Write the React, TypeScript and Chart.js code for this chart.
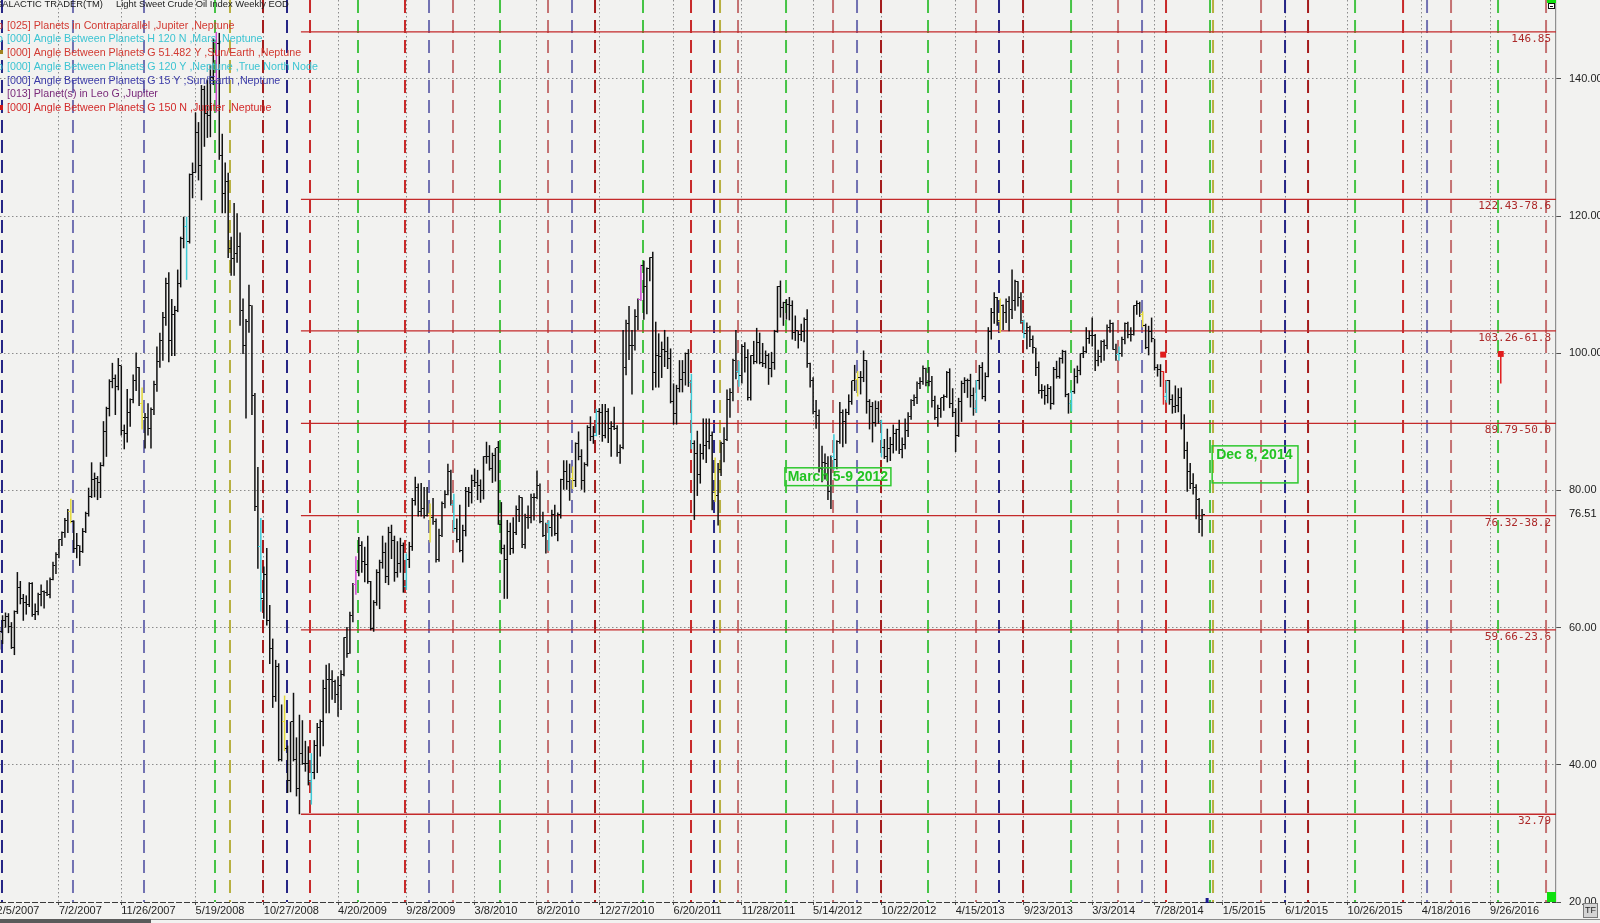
import React, { useEffect, useRef } from "react";
import { Chart, registerables } from "chart.js";

Chart.register(...registerables);

// ---------- axis ticks ----------
const tickWeeks = [0, 21, 42, 67, 90, 115, 138, 161, 182, 203, 228, 251, 275, 298, 323, 346, 369, 390, 413, 434, 455, 480, 503];
const tickLabels = ["2/5/2007", "7/2/2007", "11/26/2007", "5/19/2008", "10/27/2008", "4/20/2009", "9/28/2009", "3/8/2010", "8/2/2010", "12/27/2010", "6/20/2011", "11/28/2011", "5/14/2012", "10/22/2012", "4/15/2013", "9/23/2013", "3/3/2014", "7/28/2014", "1/5/2015", "6/1/2015", "10/26/2015", "4/18/2016", "9/26/2016"];
const priceTicks = [20, 40, 60, 80, 100, 120, 140];

// ---------- weekly OHLC (week 0 = 2/5/2007) ----------
const bars2007 = [
  [58.9, 60.5, 57.2, 59.9], [59.9, 60.0, 56.8, 59.4], [59.4, 61.8, 57.6, 61.1], [61.1, 62.2, 60.0, 61.6],
  [61.6, 62.1, 59.2, 60.1], [60.1, 60.8, 56.9, 57.1], [57.1, 62.5, 56.0, 62.3], [62.3, 68.1, 62.0, 65.9],
  [65.9, 66.8, 63.4, 64.3], [64.3, 64.9, 61.0, 63.6], [63.6, 64.7, 61.9, 63.4], [63.4, 66.6, 63.0, 66.5],
  [66.5, 66.6, 61.6, 61.9], [61.9, 63.5, 61.1, 62.4], [62.4, 65.1, 61.8, 64.9], [64.9, 66.3, 63.1, 65.2],
  [65.2, 65.4, 62.8, 65.1], [65.1, 66.9, 64.6, 64.8], [64.8, 67.3, 64.3, 67.0], [67.0, 69.6, 66.9, 69.0],
  [69.0, 71.0, 67.8, 70.7], [70.7, 72.9, 70.1, 72.8], [72.8, 74.0, 71.9, 73.9], [73.9, 76.0, 73.1, 75.6],
  [75.6, 77.3, 73.8, 77.0], [77.0, 78.8, 75.2, 75.5], [75.5, 75.6, 70.9, 71.5], [71.5, 73.8, 70.1, 72.0],
  [72.0, 72.0, 69.0, 71.1], [71.1, 74.5, 70.9, 74.0], [74.0, 76.9, 73.8, 76.7], [76.7, 80.4, 76.2, 79.1],
  [79.1, 84.1, 78.9, 81.6], [81.6, 82.6, 79.0, 81.7], [81.7, 82.1, 78.6, 81.2], [81.2, 84.1, 78.9, 83.7],
  [83.7, 90.1, 83.5, 88.6], [88.6, 92.2, 84.9, 91.9], [91.9, 96.2, 90.8, 95.9], [95.9, 98.6, 94.9, 96.3],
  [96.3, 96.9, 91.0, 95.1], [95.1, 99.3, 94.6, 98.2], [98.2, 98.2, 88.0, 88.7], [88.7, 89.6, 86.0, 88.3],
  [88.3, 94.8, 87.0, 91.3], [91.3, 93.4, 89.3, 93.3], [93.3, 96.9, 92.7, 96.0], [96.0, 100.1, 94.5, 97.9],
];
const bars2008 = [
  [97.9, 98.0, 92.3, 92.7], [92.7, 95.0, 88.9, 90.6], [90.6, 91.3, 86.1, 90.7], [90.7, 92.7, 88.0, 89.0],
  [89.0, 92.1, 86.1, 91.8], [91.8, 96.0, 91.0, 95.5], [95.5, 101.0, 94.4, 98.8], [98.8, 103.0, 97.9, 101.8],
  [101.8, 106.0, 98.9, 105.2], [105.2, 111.0, 104.0, 110.2], [110.2, 111.8, 98.7, 101.8], [101.8, 107.9, 99.6, 105.6],
  [105.6, 106.9, 99.6, 106.2], [106.2, 112.2, 106.0, 110.1], [110.1, 117.0, 109.6, 116.7], [116.7, 119.9, 115.3, 118.5],
  [118.5, 119.9, 110.7, 116.3], [116.3, 126.2, 116.0, 126.0], [126.0, 127.8, 122.6, 126.3], [126.3, 135.1, 126.3, 132.2],
  [132.2, 133.7, 125.2, 127.4], [127.4, 139.1, 122.3, 138.5], [138.5, 139.0, 130.1, 134.9], [134.9, 139.9, 131.4, 134.6],
  [134.6, 142.0, 131.5, 140.2], [140.2, 145.9, 139.1, 145.3], [145.3, 146.85, 135.1, 145.1], [145.1, 146.7, 128.2, 128.9],
  [128.9, 132.0, 120.4, 123.3], [123.3, 127.8, 120.4, 125.1], [125.1, 126.3, 113.9, 115.2], [115.2, 117.0, 111.3, 113.8],
  [113.8, 121.9, 111.3, 114.6], [114.6, 120.4, 113.2, 115.5], [115.5, 117.6, 104.0, 106.2], [106.2, 108.0, 99.9, 101.2],
  [101.2, 105.0, 90.5, 104.6], [104.6, 110.0, 103.0, 106.9], [106.9, 107.0, 91.0, 93.9], [93.9, 94.2, 77.0, 77.7],
  [77.7, 83.4, 68.6, 71.9], [71.9, 76.0, 62.3, 64.2], [64.2, 68.9, 61.3, 67.8], [67.8, 71.6, 60.3, 61.0],
  [61.0, 63.3, 54.7, 57.0], [57.0, 58.4, 48.3, 49.9], [49.9, 55.3, 49.2, 54.4], [54.4, 54.8, 40.5, 40.8],
  [40.8, 48.8, 40.5, 46.3], [46.3, 50.1, 42.0, 42.4], [42.4, 42.8, 35.9, 37.7], [37.7, 46.3, 36.0, 46.3],
];
const bars2009 = [
  [46.3, 50.5, 40.5, 40.8], [40.8, 44.0, 35.4, 36.5], [36.5, 47.3, 32.79, 41.7], [41.7, 46.5, 40.0, 40.2],
  [40.2, 43.5, 39.0, 40.2], [40.2, 42.7, 37.0, 37.5], [37.5, 41.7, 34.2, 38.9], [38.9, 43.6, 37.9, 42.8],
  [42.8, 46.1, 38.8, 45.5], [45.5, 46.6, 41.2, 46.3], [46.3, 52.4, 42.7, 51.1], [51.1, 54.6, 47.5, 52.4],
  [52.4, 54.8, 47.5, 52.5], [52.5, 53.8, 49.5, 52.2], [52.2, 52.4, 49.0, 50.3], [50.3, 52.9, 47.0, 51.6],
  [51.6, 53.8, 48.0, 53.2], [53.2, 58.6, 52.9, 58.6], [58.6, 60.1, 55.6, 56.3], [56.3, 62.3, 56.2, 61.7],
  [61.7, 66.5, 60.8, 66.3], [66.3, 70.4, 64.8, 68.4], [68.4, 73.2, 67.5, 72.0], [72.0, 72.6, 68.0, 69.6],
  [69.6, 71.8, 66.6, 69.2], [69.2, 73.4, 66.4, 66.7], [66.7, 66.8, 59.6, 59.9], [59.9, 64.0, 59.4, 63.6],
  [63.6, 68.5, 63.2, 68.1], [68.1, 69.9, 62.7, 69.5], [69.5, 73.4, 68.6, 70.9], [70.9, 72.4, 66.5, 67.5],
  [67.5, 74.7, 66.2, 73.9], [73.9, 75.0, 70.0, 72.7], [72.7, 73.4, 66.7, 68.0], [68.0, 72.6, 67.3, 69.3],
  [69.3, 73.1, 68.0, 72.0], [72.0, 72.4, 65.1, 66.0], [66.0, 70.8, 65.5, 69.9], [69.9, 72.5, 68.7, 71.8],
  [71.8, 78.9, 71.2, 78.5], [78.5, 82.0, 77.8, 80.5], [80.5, 81.0, 76.2, 77.0], [77.0, 81.1, 76.2, 77.4],
  [77.4, 80.5, 75.9, 76.4], [76.4, 80.5, 76.2, 76.7], [76.7, 78.1, 72.4, 76.1], [76.1, 78.9, 75.0, 75.5],
  [75.5, 75.9, 69.5, 69.9], [69.9, 74.4, 69.6, 73.4], [73.4, 78.4, 73.2, 78.1], [78.1, 80.0, 77.4, 79.4],
];
const bars2010 = [
  [79.4, 83.9, 79.3, 82.8], [82.8, 83.0, 77.8, 78.0], [78.0, 79.5, 74.0, 74.5], [74.5, 75.9, 72.4, 72.9],
  [72.9, 77.9, 71.0, 71.2], [71.2, 75.0, 69.5, 74.1], [74.1, 80.5, 73.3, 79.8], [79.8, 80.5, 77.6, 79.7],
  [79.7, 82.3, 78.1, 81.5], [81.5, 83.2, 80.5, 81.2], [81.2, 83.0, 78.6, 80.7], [80.7, 81.6, 78.2, 80.0],
  [80.0, 85.0, 78.7, 84.9], [84.9, 87.1, 83.9, 84.9], [84.9, 86.6, 82.9, 83.2], [83.2, 85.5, 81.1, 85.1],
  [85.1, 86.2, 81.3, 86.2], [86.2, 87.2, 75.0, 75.1], [75.1, 78.3, 70.7, 71.6], [71.6, 72.1, 64.2, 70.0],
  [70.0, 75.7, 64.2, 74.0], [74.0, 75.3, 70.6, 71.5], [71.5, 76.1, 70.8, 73.8], [73.8, 77.8, 73.5, 77.2],
  [77.2, 79.3, 75.4, 78.9], [78.9, 79.0, 71.6, 72.1], [72.1, 76.6, 71.5, 76.1], [76.1, 77.8, 74.4, 76.0],
  [76.0, 79.5, 75.2, 79.0], [79.0, 79.6, 75.6, 79.0], [79.0, 82.9, 78.7, 80.7], [80.7, 81.0, 75.2, 75.4],
  [75.4, 76.9, 73.2, 73.5], [73.5, 75.3, 70.8, 75.2], [75.2, 75.6, 71.2, 74.6], [74.6, 77.2, 73.3, 76.5],
  [76.5, 77.9, 73.4, 73.7], [73.7, 76.8, 72.6, 76.5], [76.5, 81.7, 75.9, 81.6], [81.6, 84.4, 80.1, 82.7],
  [82.7, 84.4, 80.1, 81.3], [81.3, 83.9, 78.5, 81.7], [81.7, 83.5, 80.2, 81.4], [81.4, 87.0, 80.5, 86.9],
  [86.9, 88.6, 84.4, 84.9], [84.9, 86.0, 80.1, 81.5], [81.5, 84.1, 79.7, 83.8], [83.8, 89.5, 83.5, 89.2],
  [89.2, 90.8, 87.2, 87.8], [87.8, 89.4, 86.8, 88.0], [88.0, 91.9, 87.9, 91.5], [91.5, 92.0, 88.1, 91.4],
];
const bars2011 = [
  [91.4, 92.6, 87.1, 88.0], [88.0, 92.6, 87.6, 91.5], [91.5, 92.0, 86.9, 89.1], [89.1, 90.1, 84.9, 89.3],
  [89.3, 92.2, 88.8, 89.0], [89.0, 89.5, 84.9, 85.6], [85.6, 86.7, 83.9, 86.2], [86.2, 103.4, 86.0, 97.9],
  [97.9, 104.9, 96.8, 104.4], [104.4, 106.9, 99.0, 101.2], [101.2, 103.4, 94.0, 101.1], [101.1, 106.4, 100.4, 105.4],
  [105.4, 108.0, 103.4, 107.9], [107.9, 112.9, 107.6, 112.8], [112.8, 113.5, 104.9, 109.7], [109.7, 112.5, 105.7, 112.3],
  [112.3, 114.0, 110.5, 113.9], [113.9, 114.8, 94.6, 97.2], [97.2, 104.6, 95.0, 99.7], [99.7, 102.9, 95.0, 99.5],
  [99.5, 101.7, 96.4, 100.6], [100.6, 103.4, 98.0, 100.2], [100.2, 102.4, 97.7, 99.3], [99.3, 100.7, 92.7, 93.0],
  [93.0, 95.6, 89.6, 91.2], [91.2, 95.4, 89.6, 94.9], [94.9, 99.0, 94.3, 96.2], [96.2, 99.0, 94.3, 97.2],
  [97.2, 100.1, 95.3, 99.9], [99.9, 100.6, 95.1, 95.7], [95.7, 97.0, 86.0, 86.9], [86.9, 87.3, 75.7, 85.4],
  [85.4, 88.7, 79.2, 82.3], [82.3, 86.8, 81.0, 85.4], [85.4, 90.5, 84.5, 86.5], [86.5, 90.5, 84.0, 87.2],
  [87.2, 90.5, 86.0, 88.0], [88.0, 88.6, 77.1, 79.9], [79.9, 84.8, 78.3, 79.2], [79.2, 84.0, 74.9, 83.0],
  [83.0, 87.1, 82.1, 86.8], [86.8, 89.2, 84.1, 87.4], [87.4, 94.7, 87.2, 93.3], [93.3, 94.9, 90.6, 94.3],
  [94.3, 99.2, 93.0, 99.0], [99.0, 103.4, 96.2, 97.4], [97.4, 98.9, 95.1, 96.8], [96.8, 101.3, 95.6, 101.0],
  [101.0, 101.6, 97.2, 99.4], [99.4, 100.6, 93.1, 93.5], [93.5, 99.7, 93.1, 99.7], [99.7, 101.8, 98.4, 98.8],
];
const bars2012 = [
  [98.8, 103.7, 98.5, 101.6], [101.6, 103.0, 98.4, 98.7], [98.7, 101.5, 98.0, 98.5], [98.5, 100.4, 97.8, 99.6],
  [99.6, 100.0, 95.4, 97.8], [97.8, 100.2, 96.5, 98.7], [98.7, 103.4, 97.6, 103.2], [103.2, 109.8, 103.0, 109.8],
  [109.8, 110.6, 105.2, 106.7], [106.7, 107.5, 104.0, 107.4], [107.4, 107.9, 104.9, 107.1], [107.1, 108.2, 104.8, 106.9],
  [106.9, 107.7, 102.0, 103.0], [103.0, 105.5, 101.8, 103.3], [103.3, 103.3, 100.7, 102.8], [102.8, 104.3, 101.8, 103.1],
  [103.1, 105.2, 101.6, 104.9], [104.9, 106.4, 97.9, 98.5], [98.5, 98.6, 95.0, 96.1], [96.1, 96.5, 91.1, 91.5],
  [91.5, 93.2, 89.0, 90.9], [90.9, 91.8, 82.6, 83.2], [83.2, 86.5, 81.2, 84.1], [84.1, 85.4, 81.6, 84.0],
  [84.0, 85.0, 78.6, 79.8], [79.8, 85.1, 77.3, 85.0], [85.0, 88.2, 83.0, 84.5], [84.5, 87.3, 83.1, 87.1],
  [87.1, 92.9, 86.8, 91.4], [91.4, 91.8, 86.3, 90.1], [90.1, 91.9, 86.8, 91.4], [91.4, 94.0, 91.0, 92.9],
  [92.9, 96.0, 92.5, 96.0], [96.0, 98.3, 94.5, 96.2], [96.2, 97.4, 93.7, 96.5], [96.5, 97.4, 94.0, 96.4],
  [96.4, 100.4, 95.8, 99.0], [99.0, 99.0, 91.2, 92.9], [92.9, 93.3, 88.9, 92.2], [92.2, 92.9, 87.0, 89.9],
  [89.9, 93.1, 89.3, 91.9], [91.9, 93.0, 89.7, 90.1], [90.1, 90.3, 84.9, 86.3], [86.3, 87.5, 84.6, 84.9],
  [84.9, 89.0, 84.1, 86.1], [86.1, 87.8, 84.3, 86.7], [86.7, 89.6, 85.4, 88.3], [88.3, 89.0, 85.8, 88.9],
  [88.9, 90.3, 85.3, 85.9], [85.9, 87.7, 84.7, 86.7], [86.7, 90.5, 86.0, 88.7], [88.7, 91.4, 87.8, 90.8],
];
const bars2013 = [
  [90.8, 93.3, 90.3, 93.1], [93.1, 94.0, 92.3, 93.6], [93.6, 95.9, 92.6, 95.6], [95.6, 96.5, 94.8, 95.9],
  [95.9, 98.2, 95.4, 97.8], [97.8, 97.9, 95.2, 95.7], [95.7, 98.0, 95.2, 95.9], [95.9, 96.7, 92.1, 93.1],
  [93.1, 93.8, 90.3, 90.7], [90.7, 92.5, 89.3, 92.0], [92.0, 93.5, 90.6, 93.5], [93.5, 94.0, 91.6, 93.7],
  [93.7, 97.4, 93.5, 97.2], [97.2, 97.8, 92.0, 92.7], [92.7, 94.9, 90.7, 91.3], [91.3, 92.0, 85.6, 88.0],
  [88.0, 93.5, 87.8, 93.0], [93.0, 96.0, 90.0, 95.6], [95.6, 96.5, 94.2, 96.0], [96.0, 96.3, 93.5, 96.0],
  [96.0, 97.0, 92.1, 93.8], [93.8, 95.0, 90.9, 92.0], [92.0, 96.1, 91.3, 96.0], [96.0, 98.3, 94.7, 97.9],
  [97.9, 98.7, 93.3, 93.7], [93.7, 97.2, 93.0, 96.6], [96.6, 103.8, 96.5, 103.2], [103.2, 106.6, 102.0, 106.0],
  [106.0, 108.9, 104.3, 108.1], [108.1, 108.2, 104.0, 104.7], [104.7, 108.0, 103.0, 106.9], [106.9, 107.1, 103.4, 106.0],
  [106.0, 108.0, 104.4, 107.5], [107.5, 108.3, 103.2, 106.4], [106.4, 112.2, 105.0, 107.7], [107.7, 110.7, 106.2, 110.5],
  [110.5, 110.5, 106.8, 108.2], [108.2, 108.9, 104.3, 104.7], [104.7, 104.9, 102.2, 102.9], [102.9, 104.5, 100.6, 103.8],
  [103.8, 104.0, 100.9, 102.0], [102.0, 102.6, 100.0, 100.8], [100.8, 100.8, 96.7, 97.9], [97.9, 98.8, 94.1, 94.6],
  [94.6, 95.5, 93.4, 94.6], [94.6, 95.3, 92.5, 93.8], [93.8, 95.5, 92.7, 94.8], [94.8, 95.2, 91.8, 92.7],
  [92.7, 98.0, 92.5, 97.7], [97.7, 98.9, 96.3, 96.6], [96.6, 99.4, 96.3, 99.3], [99.3, 100.5, 98.5, 100.3],
];
const bars2014 = [
  [100.3, 100.4, 93.6, 94.0], [94.0, 94.2, 91.2, 92.7], [92.7, 94.6, 91.5, 94.4], [94.4, 97.8, 94.1, 96.6],
  [96.6, 98.2, 95.6, 97.5], [97.5, 100.0, 96.8, 99.9], [99.9, 101.0, 99.3, 100.3], [100.3, 103.8, 100.0, 102.2],
  [102.2, 103.3, 101.4, 102.6], [102.6, 105.2, 101.0, 102.6], [102.6, 102.8, 97.4, 98.9], [98.9, 100.5, 98.1, 99.5],
  [99.5, 101.9, 98.6, 101.7], [101.7, 102.0, 98.9, 101.1], [101.1, 104.2, 100.6, 103.7], [103.7, 104.9, 103.0, 104.3],
  [104.3, 104.5, 100.5, 100.6], [100.6, 101.4, 98.9, 99.8], [99.8, 101.0, 98.9, 100.0], [100.0, 102.4, 99.5, 102.0],
  [102.0, 104.5, 101.3, 104.4], [104.4, 104.6, 102.2, 102.7], [102.7, 103.8, 101.7, 102.7], [102.7, 107.0, 102.6, 106.9],
  [106.9, 107.7, 105.6, 107.3], [107.3, 107.5, 105.3, 105.7], [105.7, 106.1, 103.8, 104.1], [104.1, 104.3, 100.6, 100.8],
  [100.8, 104.0, 99.7, 103.1], [103.1, 105.2, 101.6, 102.1], [102.1, 102.1, 97.5, 97.9], [97.9, 98.4, 96.6, 97.7],
  [97.7, 98.4, 95.1, 97.4], [97.4, 97.4, 92.5, 93.7], [93.7, 96.0, 92.8, 96.0], [96.0, 96.1, 92.5, 93.3],
  [93.3, 94.0, 91.2, 92.3], [92.3, 95.3, 91.3, 92.4], [92.4, 94.9, 91.4, 93.5], [93.5, 95.0, 88.9, 89.7],
  [89.7, 91.1, 84.6, 85.8], [85.8, 87.1, 79.8, 82.8], [82.8, 84.0, 80.2, 81.0], [81.0, 82.5, 79.4, 80.5],
  [80.5, 80.9, 75.8, 78.7], [78.7, 78.9, 73.8, 75.8], [75.8, 77.3, 73.3, 76.51],
];
const yearStartWeeks = [0, 48, 100, 152, 204, 256, 308, 360];
const yearBars = [bars2007, bars2008, bars2009, bars2010, bars2011, bars2012, bars2013, bars2014];

// bars painted in event colours
const yellowBarWeeks = [25, 49, 97, 146, 194, 242, 290, 338, 386];
const cyanBarWeeks = [64, 89, 106, 138, 154, 186, 202, 234, 250, 282, 298, 330, 346, 362, 378, 394];
const magentaBarWeeks = [74, 121, 217];
const redBarWeeks = [393];

// ---------- event (astro) lines, in weeks ----------
const navyEventWeeks = [1.82, 97.81, 241.63, 337.61, 433.94];
const slateEventWeeks = [25.73, 49.65, 145.64, 193.8, 289.79, 385.78, 481.77];
const greenEventWeeks = [73.56, 121.72, 169.55, 217.71, 265.88, 313.7, 361.87, 408.68, 457.52, 505.68];
const oliveEventWeeks = [78.61, 243.65, 409.69];
const redEventWeeks = [105.56, 137.55, 233.88, 393.86, 473.69];
const darkRedEventWeeks = [89.73, 201.55, 297.87, 345.7, 441.69];
const salmonEventWeeks = [153.72, 185.72, 249.71, 281.71, 329.87, 377.7, 425.86, 489.85, 521.85];

// ---------- retracement levels ----------
const levelValues = [146.85, 122.43, 103.26, 89.79, 76.32, 59.66, 32.79];
const levelLabels = ["146.85", "122.43-78.6", "103.26-61.8", "89.79-50.0", "76.32-38.2", "59.66-23.6", "32.79"];
const levelStartWeek = 102.5;

// ---------- markers ----------
const markerWeeks = [392.9, 506.6];
const markerValues = [99.8, 99.9];
const projectionWeeks = [506.6, 506.6];
const projectionValues = [99.9, 95.6];

// ---------- legend ----------
const legendTexts = [
  "[025] Planets in Contraparallel ,Jupiter ,Neptune",
  "[000] Angle Between Planets H 120 N ,Mars ,Neptune",
  "[000] Angle Between Planets G 51.482 Y ,Sun/Earth ,Neptune",
  "[000] Angle Between Planets G 120 Y ,Neptune ,True North Node",
  "[000] Angle Between Planets G 15 Y ;Sun/Earth ,Neptune",
  "[013] Planet(s) in Leo G ,Jupiter",
  "[000] Angle Between Planets G 150 N ,Jupiter ,Neptune",
];
const legendColors = ["#d23a32", "#3cc4d2", "#d23a32", "#3cc4d2", "#3a3aa8", "#7a2a7a", "#d22a2a"];

const annotationTexts = ["March 5-9 2012", "Dec 8, 2014"];

// ---------- layout constants ----------
const X_MIN = 1.15;
const X_MAX = 525.2;
const Y_MIN = 20;
const Y_MAX = 151.5;
const BG = "#f2f2f0";
const FONT = '"Liberation Sans", Arial, sans-serif';
const marchBox = { w1: 265.5, w2: 301.2, top: 83.3, bottom: 80.7 };
const decBox = { w1: 409.4, w2: 438.3, top: 86.5, bottom: 81.1 };

export default function App() {
  const ref = useRef<HTMLCanvasElement>(null);

  useEffect(() => {
    document.body.style.margin = "0";
    const canvas = ref.current!;

    const ohlc: { w: number; o: number; h: number; l: number; c: number }[] = [];
    yearBars.forEach((arr, k) => {
      arr.forEach((b, i) => ohlc.push({ w: yearStartWeeks[k] + i, o: b[0], h: b[1], l: b[2], c: b[3] }));
    });
    const lastClose = ohlc[ohlc.length - 1].c;

    const colorOf = (w: number) =>
      redBarWeeks.includes(w) ? "#e02020" :
      yellowBarWeeks.includes(w) ? "#e2d83a" :
      cyanBarWeeks.includes(w) ? "#3ccad6" :
      magentaBarWeeks.includes(w) ? "#d04ad0" : "#101010";

    const cache: Record<string, HTMLCanvasElement> = {};
    const tickImg = (color: string, side: string) => {
      const key = color + side;
      if (!cache[key]) {
        const c = document.createElement("canvas");
        c.width = 5; c.height = 1;
        const g = c.getContext("2d")!;
        g.fillStyle = color;
        g.fillRect(side === "l" ? 0 : 3, 0, 2, 1);
        cache[key] = c;
      }
      return cache[key];
    };

    const vLines = (weeks: number[]) =>
      weeks.flatMap((w) => [{ x: w, y: Y_MAX }, { x: w, y: Y_MIN }, { x: w, y: null }]);
    const eventGroups: [number[], string][] = [
      [navyEventWeeks, "#262686"],
      [slateEventWeeks, "#7272b2"],
      [greenEventWeeks, "#46c446"],
      [oliveEventWeeks, "#b8b040"],
      [redEventWeeks, "#c82a2a"],
      [darkRedEventWeeks, "#a41c1c"],
      [salmonEventWeeks, "#c47272"],
    ];
    const eventDatasets = eventGroups.map(([weeks, color]) => ({
      type: "line",
      data: vLines(weeks),
      borderColor: color,
      borderWidth: 2,
      borderDash: [13, 7],
      pointRadius: 0,
      spanGaps: false,
      tension: 0,
      order: 10,
    }));

    const levelData = levelValues.flatMap((v) => [
      { x: levelStartWeek, y: v }, { x: X_MAX, y: v }, { x: X_MAX, y: null },
    ]);

    const overlay = {
      id: "overlay",
      beforeDraw(chart: any) {
        const { ctx, width, height } = chart;
        ctx.save();
        ctx.fillStyle = BG;
        ctx.fillRect(0, 0, width, height);
        ctx.restore();
      },
      beforeDatasetsDraw(chart: any) {
        chart.ctx.imageSmoothingEnabled = false;
      },
      afterDraw(chart: any) {
        const { ctx, chartArea, scales } = chart;
        const xs = scales.x;
        const ys = scales.y;
        ctx.save();
        // dashed bottom axis
        ctx.strokeStyle = "#3a3a3a";
        ctx.lineWidth = 1;
        ctx.setLineDash([6, 2]);
        ctx.beginPath();
        ctx.moveTo(0, chartArea.bottom + 0.5);
        ctx.lineTo(chartArea.right, chartArea.bottom + 0.5);
        ctx.stroke();
        ctx.setLineDash([]);

        // level labels
        ctx.font = '11px "DejaVu Sans Mono", monospace';
        ctx.fillStyle = "#ac2a2a";
        ctx.textAlign = "right";
        ctx.textBaseline = "top";
        levelValues.forEach((v, i) => {
          ctx.fillText(levelLabels[i], chartArea.right - 5, ys.getPixelForValue(v) + 1.5);
        });

        // header
        ctx.textAlign = "left";
        ctx.textBaseline = "alphabetic";
        ctx.font = `9.4px ${FONT}`;
        ctx.fillStyle = "#202020";
        ctx.fillText("GALACTIC TRADER(TM)", -5, 6.5);
        ctx.fillText("Light Sweet Crude Oil Index Weekly EOD", 116, 6.5);

        // legend
        ctx.font = `10.7px ${FONT}`;
        legendTexts.forEach((t, i) => {
          const by = 28.5 + i * 13.75;
          ctx.fillStyle = legendColors[i];
          ctx.fillText(t, 7, by);
          if (i === 0 || i === 1 || i === 3) ctx.fillText("þ", -3, by);
          if (i === 2) { ctx.fillStyle = "#a08020"; ctx.fillRect(0, by - 6, 3, 4); }
          if (i === 6) { ctx.fillStyle = "#d01818"; ctx.fillRect(0, by - 6, 3, 5); }
        });

        // annotation boxes
        const boxes = [marchBox, decBox];
        boxes.forEach((b, i) => {
          const x1 = xs.getPixelForValue(b.w1);
          const x2 = xs.getPixelForValue(b.w2);
          const y1 = ys.getPixelForValue(b.top);
          const y2 = ys.getPixelForValue(b.bottom);
          ctx.strokeStyle = "#2ec82e";
          ctx.lineWidth = 1.5;
          ctx.strokeRect(x1, y1, x2 - x1, y2 - y1);
          ctx.font = `bold 14px ${FONT}`;
          ctx.fillStyle = "#22c422";
          ctx.textBaseline = "middle";
          if (i === 0) {
            ctx.textAlign = "center";
            ctx.fillText(annotationTexts[i], (x1 + x2) / 2, (y1 + y2) / 2 + 0.5);
          } else {
            ctx.textAlign = "left";
            ctx.fillText(annotationTexts[i], x1 + 4, y1 + 9.5);
          }
        });

        // last price
        ctx.textAlign = "left";
        ctx.textBaseline = "middle";
        ctx.font = `11px ${FONT}`;
        ctx.fillStyle = "#111";
        ctx.fillText(lastClose.toFixed(2), chartArea.right + 13, ys.getPixelForValue(lastClose));

        // small navy marker on the time axis
        const nx = xs.getPixelForValue(407.7);
        ctx.fillStyle = "#1a1a90";
        ctx.fillRect(nx - 1.5, chartArea.bottom - 4, 3, 5);

        // chrome: corner boxes, TF button, scrollbar
        ctx.fillStyle = "#10e010";
        ctx.fillRect(chartArea.right - 9, 0, 9, 3);
        ctx.fillRect(chartArea.right - 9, chartArea.bottom - 10, 9, 10);
        ctx.fillStyle = "#ffffff";
        ctx.fillRect(chartArea.right - 8, 3, 7, 6);
        ctx.strokeStyle = "#111";
        ctx.lineWidth = 1;
        ctx.strokeRect(chartArea.right - 7.5, 3.5, 6, 5);
        ctx.beginPath();
        ctx.moveTo(chartArea.right - 6, 6.5);
        ctx.lineTo(chartArea.right - 3, 6.5);
        ctx.stroke();

        ctx.fillStyle = "#d4d4d4";
        ctx.fillRect(1583, 903, 15, 15);
        ctx.strokeStyle = "#7a7a7a";
        ctx.strokeRect(1583.5, 903.5, 14, 14);
        ctx.fillStyle = "#222";
        ctx.font = `9px ${FONT}`;
        ctx.textAlign = "center";
        ctx.fillText("TF", 1590.5, 911);

        ctx.fillStyle = "#8a8a8a";
        ctx.fillRect(0, 919, 1600, 1);
        ctx.fillStyle = "#5a5a5a";
        ctx.fillRect(0, 919, 151, 4);
        ctx.restore();
      },
    };

    const chart = new Chart(canvas, {
      type: "bar",
      data: {
        datasets: [
          ...eventDatasets,
          {
            type: "line",
            data: levelData,
            borderColor: "#c42a2a",
            borderWidth: 1.3,
            pointRadius: 0,
            spanGaps: false,
            tension: 0,
            order: 8,
          },
          {
            type: "bar",
            data: ohlc.map((b) => ({ x: b.w, y: [Math.min(b.l, b.o, b.c), Math.max(b.h, b.o, b.c)] })),
            backgroundColor: ohlc.map((b) => colorOf(b.w)),
            borderWidth: 0,
            barThickness: 1.5,
            inflateAmount: 0,
            grouped: false,
            order: 3,
          },
          {
            type: "scatter",
            data: ohlc.map((b) => ({ x: b.w, y: b.o })),
            pointStyle: ohlc.map((b) => tickImg(colorOf(b.w), "l")),
            pointRadius: 1,
            order: 2,
          },
          {
            type: "scatter",
            data: ohlc.map((b) => ({ x: b.w, y: b.c })),
            pointStyle: ohlc.map((b) => tickImg(colorOf(b.w), "r")),
            pointRadius: 1,
            order: 2,
          },
          {
            type: "line",
            data: projectionWeeks.map((w, i) => ({ x: w, y: projectionValues[i] })),
            borderColor: "#e02020",
            borderWidth: 1.5,
            pointRadius: 0,
            order: 1,
          },
          {
            type: "scatter",
            data: markerWeeks.map((w, i) => ({ x: w, y: markerValues[i] })),
            pointStyle: "rect",
            pointRadius: 4.2,
            backgroundColor: "#e01c1c",
            borderWidth: 0,
            order: 0,
          },
        ],
      } as any,
      options: {
        animation: false,
        responsive: true,
        maintainAspectRatio: false,
        events: [],
        layout: { padding: 0, autoPadding: false },
        plugins: { legend: { display: false }, tooltip: { enabled: false } },
        scales: {
          x: {
            type: "linear",
            min: X_MIN,
            max: X_MAX,
            offset: false,
            afterBuildTicks: (s: any) => { s.ticks = tickWeeks.map((v) => ({ value: v })); },
            afterFit: (s: any) => { s.height = 21; s.paddingLeft = 0; s.paddingRight = 0; },
            ticks: {
              autoSkip: false,
              maxRotation: 0,
              minRotation: 0,
              align: "start",
              padding: 0,
              color: "#1e1e1e",
              font: { family: FONT, size: 11, lineHeight: 1 },
              callback: (_v: any, i: number) => tickLabels[i],
            },
            grid: { color: "#8c8c8c", lineWidth: 1, tickLength: 3, tickColor: "#505050", offset: false },
            border: { display: false, dash: [1.5, 2.5] },
          },
          y: {
            type: "linear",
            position: "right",
            min: Y_MIN,
            max: Y_MAX,
            afterBuildTicks: (s: any) => { s.ticks = priceTicks.map((v) => ({ value: v })); },
            afterFit: (s: any) => { s.width = 44; s.paddingTop = 0; s.paddingBottom = 0; },
            ticks: {
              padding: 8,
              color: "#1e1e1e",
              font: { family: FONT, size: 11 },
              callback: (v: any) => Number(v).toFixed(2),
            },
            grid: { color: "#8c8c8c", lineWidth: 1, tickLength: 5, tickColor: "#505050" },
            border: { display: true, color: "#8f8f8f", width: 1.2, dash: [1.5, 2.5] },
          },
        },
      } as any,
      plugins: [overlay],
    });

    return () => chart.destroy();
  }, []);

  return (
    <div style={{ position: "fixed", left: 0, top: 0, width: "1600px", height: "923px", background: BG }}>
      <canvas ref={ref} />
    </div>
  );
}
